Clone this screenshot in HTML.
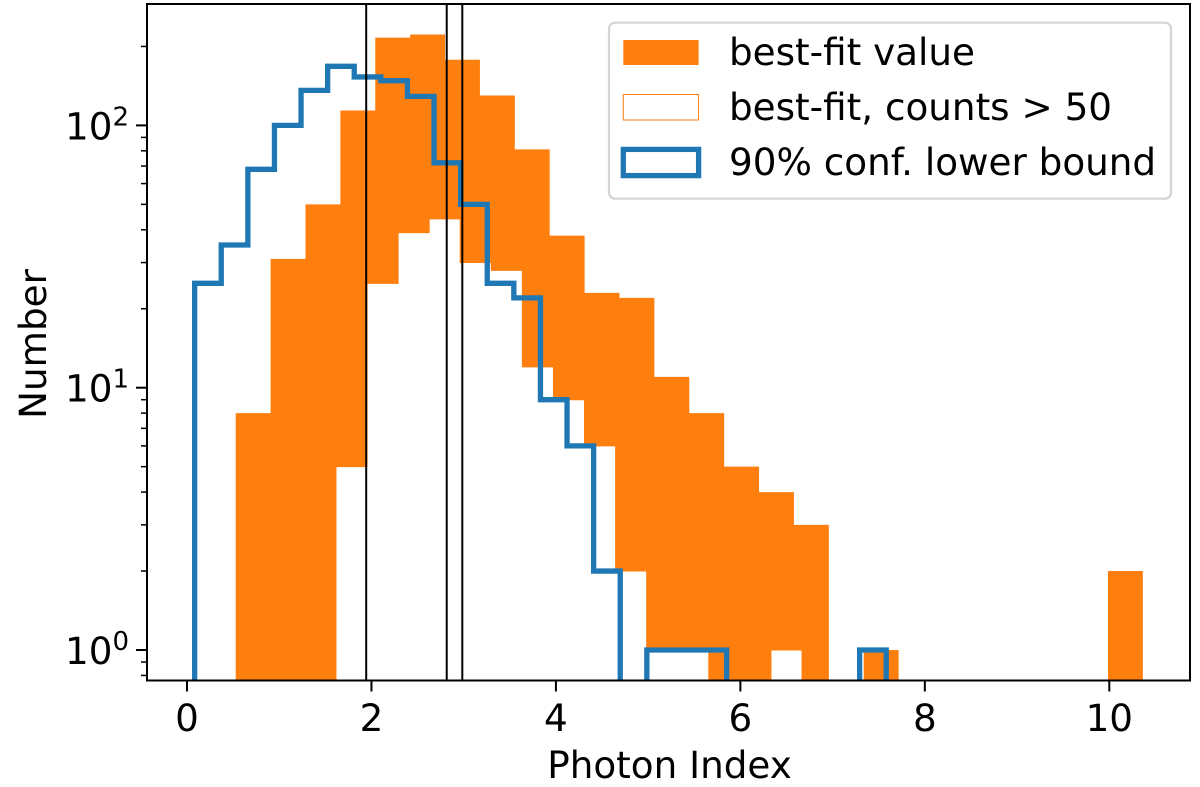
<!DOCTYPE html>
<html lang="en">
<head>
<meta charset="utf-8">
<title>Photon Index histogram</title>
<style>
html,body{margin:0;padding:0;background:#fff;width:1200px;height:787px;overflow:hidden}
svg{display:block}
text{font-family:"DejaVu Sans","Liberation Sans",sans-serif;font-size:37.3px;fill:#000}
</style>
</head>
<body>
<svg id="chart" xmlns="http://www.w3.org/2000/svg" width="1200" height="787" viewBox="0 0 1200 787">
  <rect x="0" y="0" width="1200" height="787" fill="#fff"/>
  <defs><clipPath id="axes-clip"><rect x="147" y="4" width="1043" height="676.5"/></clipPath></defs>
  <g id="plot-area" clip-path="url(#axes-clip)"></g>
  <g id="axes-layer"></g>
  <g>
    <rect x="609" y="22.7" width="562" height="176" rx="6" ry="6" fill="#fff" fill-opacity="0.8" stroke="#d4d4d4" stroke-width="2.2"/>
    <g>
      <rect x="623.3" y="40" width="75.3" height="25" fill="#ff7f0e"/>
      <text x="729" y="65">best-fit value</text>
    </g>
    <g>
      <rect x="623.3" y="94.5" width="75.3" height="25.5" fill="#fff" stroke="#ff7f0e" stroke-width="1"/>
      <text x="729" y="120">best-fit, counts &gt; 50</text>
    </g>
    <g>
      <rect x="623.3" y="149.4" width="75.3" height="26.2" fill="#fff" stroke="#1f77b4" stroke-width="5.3"/>
      <text x="729" y="175">90% conf. lower bound</text>
    </g>
  </g>
</svg>
<script>
// Chart data
const bestFitStart = 0.528;
const bestFitBinWidth = 0.3783;
const bestFitCounts = [8, 31, 50, 114, 216, 222, 178, 130, 81, 38, 23, 22, 11, 8, 5, 4, 3, 0, 1, 0, 0, 0, 0, 0, 0, 2];

const highCountsStart = 1.615;
const highCountsBinWidth = 0.3369;
const highCountsValues = [5, 25, 39, 44, 30, 28, 12, 9, 6, 2, 1, 1, 0, 0, 1];

const lowerBoundStart = 0.083;
const lowerBoundBinWidth = 0.2884;
const lowerBoundCounts = [25, 35, 68, 100, 136, 168, 153, 148, 129, 72, 50, 25, 22, 9, 6, 2, 0, 1, 1, 1, 0, 0, 0, 0, 0, 1];

const referenceLines = [1.943, 2.816, 2.985];

const xTickValues = [0, 2, 4, 6, 8, 10];
const yTickExponents = [0, 1, 2];
const yMinorMultiples = [2, 3, 4, 5, 6, 7, 8, 9];
const yMinorDecades = [0, 1, 2];
const yLowMinorValues = [0.8, 0.9];

const xAxisTitle = 'Photon Index';
const yAxisTitle = 'Number';

// Axis functions
const axisLeft = 147, axisRight = 1190, axisTop = 4, axisBottom = 680.5;
const xOrigin = 187, xPerUnit = 92.23;
const yOrigin = 650, yPerDecade = 262.3;
function xScale(v) { return xOrigin + xPerUnit * v; }
function yScale(v) { return v > 0 ? yOrigin - yPerDecade * Math.log10(v) : axisBottom + 20; }

const svgNS = 'http://www.w3.org/2000/svg';
const plot = document.getElementById('plot-area');
const axes = document.getElementById('axes-layer');

function make(tag, parent, attrs) {
  const el = document.createElementNS(svgNS, tag);
  for (const k in attrs) el.setAttribute(k, attrs[k]);
  parent.appendChild(el);
  return el;
}

function stepPath(start, width, counts, close) {
  const floor = axisBottom + 20;
  let d = 'M' + xScale(start).toFixed(2) + ' ' + floor;
  counts.forEach(function (c, i) {
    const y = yScale(c).toFixed(2);
    d += 'L' + xScale(start + width * i).toFixed(2) + ' ' + y;
    d += 'L' + xScale(start + width * (i + 1)).toFixed(2) + ' ' + y;
  });
  d += 'L' + xScale(start + width * counts.length).toFixed(2) + ' ' + floor;
  return close ? d + 'Z' : d;
}

// Histograms
const bestFitHist = make('path', plot, { d: stepPath(bestFitStart, bestFitBinWidth, bestFitCounts, true), fill: '#ff7f0e', stroke: 'none' });



const highCountsHist = make('path', plot, { d: stepPath(highCountsStart, highCountsBinWidth, highCountsValues, true), fill: '#fff', stroke: '#ff7f0e', 'stroke-width': 1 });



const lowerBoundHist = make('path', plot, { d: stepPath(lowerBoundStart, lowerBoundBinWidth, lowerBoundCounts, false), fill: 'none', stroke: '#1f77b4', 'stroke-width': 5.3, 'stroke-linejoin': 'miter' });



// Vertical reference lines
referenceLines.forEach(function (v) {
  const line = make('line', plot, { x1: xScale(v), x2: xScale(v), y1: axisTop, y2: axisBottom, stroke: '#000', 'stroke-width': 2 });
  
  
});

// X ticks
xTickValues.forEach(function (v) {
  const tick = make('line', axes, { x1: xScale(v), x2: xScale(v), y1: axisBottom, y2: axisBottom + 11, stroke: '#000', 'stroke-width': 2 });
  
  
  const label = make('text', axes, { x: xScale(v), y: 731, 'text-anchor': 'middle' });
  label.textContent = String(v);
  
  
});

// Y ticks
yTickExponents.forEach(function (e) {
  const y = yScale(Math.pow(10, e));
  const tick = make('line', axes, { x1: axisLeft - 11, x2: axisLeft, y1: y, y2: y, stroke: '#000', 'stroke-width': 2 });
  
  
  const label = make('text', axes, { x: 129, y: y + 14, 'text-anchor': 'end' });
  
  
  label.appendChild(document.createTextNode('10'));
  const sup = make('tspan', label, { dy: -14, 'font-size': 26 });
  sup.textContent = String(e);
});

yMinorDecades.forEach(function (d) {
  yMinorMultiples.forEach(function (m) {
    const y = yScale(m * Math.pow(10, d));
    if (y < axisTop || y > axisBottom) return;
    const tick = make('line', axes, { x1: axisLeft - 6, x2: axisLeft, y1: y, y2: y, stroke: '#000', 'stroke-width': 1.5 });
    
    
  });
});
yLowMinorValues.forEach(function (v) {
  const y = yScale(v);
  const tick = make('line', axes, { x1: axisLeft - 6, x2: axisLeft, y1: y, y2: y, stroke: '#000', 'stroke-width': 1.5 });
  
  
});

// Axis titles
const xTitle = make('text', axes, { x: 669.5, y: 778, 'text-anchor': 'middle' });
xTitle.textContent = xAxisTitle;



const yTitle = make('text', axes, { x: 0, y: 0, 'text-anchor': 'middle', transform: 'translate(46,344) rotate(-90)' });
yTitle.textContent = yAxisTitle;



// Spines
const spines = make('rect', axes, { x: axisLeft, y: axisTop, width: axisRight - axisLeft, height: axisBottom - axisTop, fill: 'none', stroke: '#000', 'stroke-width': 2 });


</script>
</body>
</html>
